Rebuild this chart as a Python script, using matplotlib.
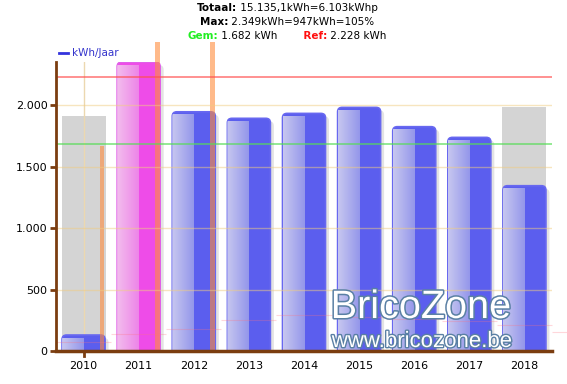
import matplotlib
matplotlib.use("Agg")
import matplotlib.pyplot as plt
import numpy as np
from matplotlib.patches import FancyBboxPatch, Rectangle
from matplotlib.lines import Line2D
import matplotlib.patheffects as pe

# ---------------- data ----------------
years = ["2010", "2011", "2012", "2013", "2014", "2015", "2016", "2017", "2018"]
kwh = [130, 2349, 1945, 1892, 1932, 1981, 1824, 1737, 1344]
reference_grey = [1911, None, None, None, None, None, None, None, 1986]
orange_marks = [1667, 2510, 2510, None, None, None, None, None, None]
trend = [73, 138, 179, 252, 293, 280, 262, 240, 211, 154]
gem = 1682
ref = 2228
title_lines = [
    [("Totaal:", "bold", "black"), (" 15.135,1kWh=6.103kWhp", "normal", "black")],
    [("Max:", "bold", "black"), (" 2.349kWh=947kWh=105%", "normal", "black")],
    [("Gem:", "bold", "#22ee22"), (" 1.682 kWh", "normal", "black"),
     ("       Ref:", "bold", "#ff1010"), (" 2.228 kWh", "normal", "black")],
]
ytick_vals = [0, 500, 1000, 1500, 2000]
ytick_labels = ["0", "500", "1.000", "1.500", "2.000"]
max_index = int(np.argmax(kwh))

# ---------------- figure ----------------
W, H = 567, 384
fig = plt.figure(figsize=(W / 100, H / 100), dpi=100)
ax = fig.add_axes([56 / W, (H - 351) / H, (552 - 56) / W, (351 - 62) / H])
ymax = 2350
ax.set_xlim(-0.5, len(years) - 0.5)
ax.set_ylim(0, ymax)

px_per_x = (552 - 56) / len(years)
px_per_y = (351 - 62) / ymax
aspect = px_per_x / px_per_y

bw = 0.78
r = 4.5 / px_per_x
x = np.arange(len(years))

# grey background bars
for i, g in enumerate(reference_grey):
    if g is not None:
        ax.add_patch(Rectangle((x[i] - bw / 2 - 0.01, 0), bw + 0.02, g,
                               facecolor="#d4d4d4", edgecolor="none", zorder=1))

# vertical grid at first category
ax.axvline(x[0], color="#ecd8b0", lw=1, zorder=1.5)

grad = np.linspace(0, 1, 64).reshape(1, -1)
for i, v in enumerate(kwh):
    magenta = i == max_index
    solid = "#ee4ce8" if magenta else "#5b5eee"
    light_l = (0.95, 0.74, 0.93) if magenta else (0.78, 0.78, 0.94)
    light_r = (0.93, 0.52, 0.91) if magenta else (0.58, 0.59, 0.92)
    edge = "#e060e8" if magenta else "#6868f0"
    x0 = x[i] - bw / 2
    # shadow
    sh = FancyBboxPatch((x0 + 3.5 / px_per_x, -100), bw, v + 100 - 3 / px_per_y,
                        boxstyle=f"round,pad=0,rounding_size={r}",
                        mutation_aspect=aspect, facecolor="#000000", alpha=0.11,
                        edgecolor="none", zorder=2)
    ax.add_patch(sh)
    p = FancyBboxPatch((x0, -100), bw, v + 100,
                       boxstyle=f"round,pad=0,rounding_size={r}",
                       mutation_aspect=aspect, facecolor=solid,
                       edgecolor=edge, lw=1.2, zorder=3)
    ax.add_patch(p)
    cmap = matplotlib.colors.LinearSegmentedColormap.from_list("g", [light_l, light_r])
    im = ax.imshow(grad, extent=[x0, x[i], 0, v - 3 / px_per_y], cmap=cmap,
                   aspect="auto", zorder=3.5, interpolation="bilinear")
    im.set_clip_path(p)

# orange marks
for i, o in enumerate(orange_marks):
    if o is not None:
        ax.add_patch(Rectangle((x[i] + 0.29, 0), 0.09, o, facecolor="#ff8c3c",
                               alpha=0.6, edgecolor="none", zorder=4, clip_on=False))

# grid lines on top
for yv in ytick_vals[1:]:
    ax.axhline(yv, color="#f0cc80", lw=1, alpha=0.5, zorder=5)
ax.axhline(gem, color="#55dd55", lw=1.1, alpha=0.8, zorder=5)
ax.axhline(ref, color="#ff5050", lw=1.1, alpha=0.8, zorder=5)

# faint trend step line
tx = np.arange(len(trend)) - 0.5
ax.hlines(trend, tx, tx + 1, color="#ff7080", lw=0.8, alpha=0.28, zorder=5, clip_on=False)

# axes styling
for s in ["top", "right"]:
    ax.spines[s].set_visible(False)
ax.spines["left"].set_color("#7b3d10")
ax.spines["left"].set_linewidth(2)
ax.spines["bottom"].set_color("#7b3d10")
ax.spines["bottom"].set_linewidth(2.5)
ax.spines["left"].set_zorder(6)
ax.spines["bottom"].set_zorder(6)
ax.set_yticks(ytick_vals)
ax.set_yticklabels(ytick_labels, fontsize=8)
ax.tick_params(axis="y", color="#7b3d10", length=4, width=2, pad=2)
ax.set_xticks(x)
ax.set_xticklabels(years, fontsize=8)
ax.tick_params(axis="x", length=0, pad=7)
ax.plot([x[0], x[0]], [0, -5 / px_per_y], color="#7b3d10", lw=2, clip_on=False, zorder=6)

# legend
fig.add_artist(Line2D([59 / W, 68 / W], [1 - 53 / H, 1 - 53 / H], color="#3333dd", lw=2))
fig.text(72 / W, 1 - 53 / H, "kWh/Jaar", color="#3333cc", fontsize=7.5, va="center")

# title (mixed bold/normal)
fig.canvas.draw()
renderer = fig.canvas.get_renderer()
cx = 287
for li, parts in enumerate(title_lines):
    yc = 1 - (8 + 14 * li) / H
    texts = []
    for s, w, c in parts:
        t = fig.text(0, yc, s, fontsize=7.5, fontweight=w, color=c, va="center", ha="left")
        texts.append(t)
    widths = [t.get_window_extent(renderer).width for t in texts]
    total = sum(widths)
    xs = cx - total / 2
    for t, wdt in zip(texts, widths):
        t.set_x(xs / W)
        xs += wdt

# watermark
wm = [pe.Stroke(linewidth=2.2, foreground="#5a80a4"), pe.Normal()]
fig.text(421 / W, 1 - 318 / H, "BricoZone", fontsize=28.5, family="Liberation Sans",
         color="white", ha="center", va="baseline", path_effects=wm, zorder=10)
fig.text(422 / W, 1 - 347 / H, "www.bricozone.be", fontsize=16, family="Liberation Sans",
         color="white", ha="center", va="baseline",
         path_effects=[pe.Stroke(linewidth=2, foreground="#5a80a4"), pe.Normal()], zorder=10)

fig.savefig("out.png", dpi=100)
